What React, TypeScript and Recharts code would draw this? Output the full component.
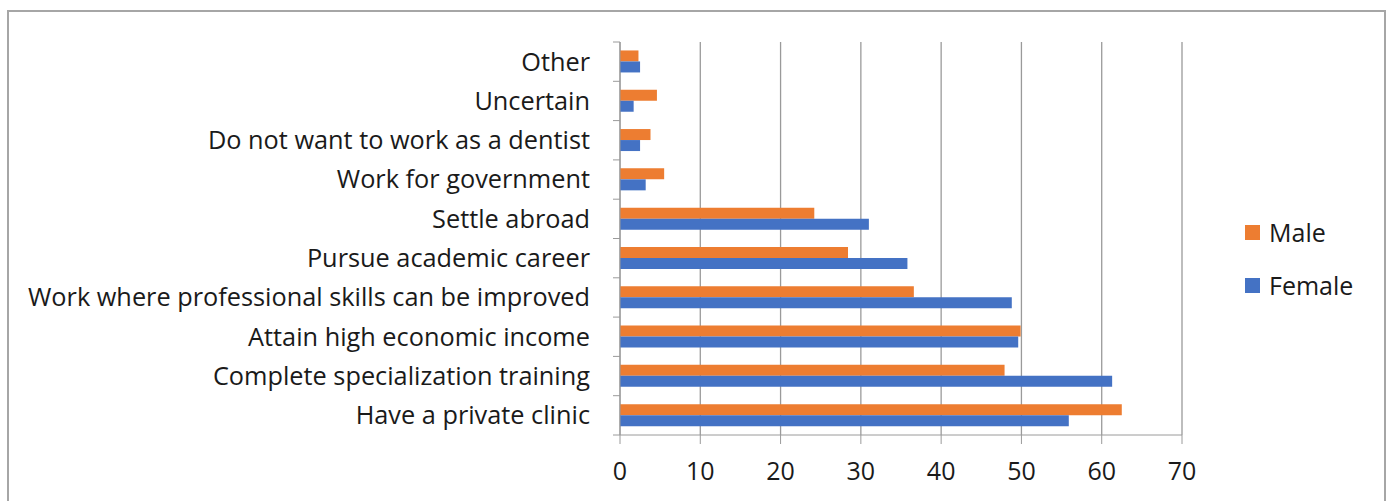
import { BarChart, Bar, XAxis, YAxis, CartesianGrid, Legend } from "recharts";

const categories = [
  "Other",
  "Uncertain",
  "Do not want to work as a dentist",
  "Work for government",
  "Settle abroad",
  "Pursue academic career",
  "Work where professional skills can be improved",
  "Attain high economic income",
  "Complete specialization training",
  "Have a private clinic",
];
const male = [2.3, 4.6, 3.8, 5.5, 24.2, 28.4, 36.6, 49.9, 47.9, 62.5];
const female = [2.5, 1.7, 2.5, 3.2, 31.0, 35.8, 48.8, 49.6, 61.3, 55.9];
const xTicks = [0, 10, 20, 30, 40, 50, 60, 70];

const data = categories.map((name, i) => ({ name, Male: male[i], Female: female[i] }));

const FONT = "'Open Sans', sans-serif";
const GRID = "#9a9a9a";
const TOP = 42;
const BOTTOM = 435;
const BAND = (BOTTOM - TOP) / categories.length;

/* ── Category tick with boundary tick marks ───────────────────────────── */
function CatTick({ x, y, payload, index }: any) {
  return (
    <g>
      <line x1={x + 23} x2={x + 30} y1={y - BAND / 2} y2={y - BAND / 2} stroke={GRID} />
      {index === categories.length - 1 && (
        <line x1={x + 23} x2={x + 30} y1={y + BAND / 2} y2={y + BAND / 2} stroke={GRID} />
      )}
      <text x={x} y={y} dy="0.35em" textAnchor="end" fontSize={25.3} fill="#1a1a1a" fontFamily={FONT}>
        {payload.value}
      </text>
    </g>
  );
}

function SideLegend() {
  const items = [
    { label: "Male", color: "#ED7D31" },
    { label: "Female", color: "#4472C4" },
  ];
  return (
    <div style={{ position: "absolute", left: 1245, top: 217 }}>
      {items.map((it) => (
        <div key={it.label} style={{ display: "flex", alignItems: "center", height: 30, marginBottom: 23 }}>
          <span style={{ width: 15, height: 15, background: it.color, display: "inline-block", marginRight: 9 }} />
          <span style={{ fontFamily: FONT, fontSize: 25, color: "#1a1a1a" }}>{it.label}</span>
        </div>
      ))}
    </div>
  );
}

export default function App() {
  return (
    <div style={{ position: "absolute", left: 0, top: 0, width: 1392, height: 501, background: "#fff", overflow: "hidden" }}>
      <div style={{ position: "absolute", left: 7, top: 10, width: 1375, height: 500, border: "2px solid #a6a6a6" }} />
      <BarChart
        width={1392}
        height={501}
        data={data}
        layout="vertical"
        margin={{ top: TOP, right: 210, bottom: 501 - BOTTOM - 50, left: 0 }}
        barCategoryGap="21.5%"
        barGap={0}
      >
        <CartesianGrid horizontal={false} stroke={GRID} strokeWidth={1.3} />
        <XAxis
          type="number"
          domain={[0, 70]}
          ticks={xTicks}
          height={50}
          tickSize={9}
          tickMargin={18}
          axisLine={{ stroke: GRID }}
          tickLine={{ stroke: GRID }}
          tick={{ fontSize: 25, fill: "#1a1a1a", fontFamily: FONT }}
        />
        <YAxis
          type="category"
          dataKey="name"
          width={620}
          tickSize={0}
          tickMargin={30}
          axisLine={{ stroke: GRID }}
          tick={<CatTick />}
          interval={0}
        />
        <Legend content={() => null} />
        <Bar dataKey="Male" fill="#ED7D31" isAnimationActive={false} />
        <Bar dataKey="Female" fill="#4472C4" isAnimationActive={false} />
      </BarChart>
      <SideLegend />
    </div>
  );
}
